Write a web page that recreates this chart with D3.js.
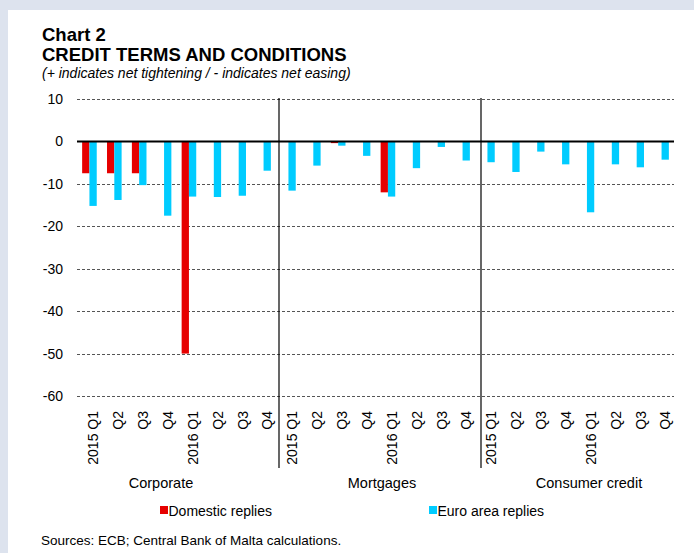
<!DOCTYPE html>
<html>
<head>
<meta charset="utf-8">
<script src="https://cdn.jsdelivr.net/npm/d3@7"></script>
<style>
  html, body { margin: 0; padding: 0; background: #dde3ee; }
  svg { display: block; font-family: 'Liberation Sans', Arial, sans-serif; }
</style>
</head>
<body>
<div id="chart"></div>
<script>
  'use strict';

  var groups = ['Corporate', 'Mortgages', 'Consumer credit'];
  var quarters = ['2015 Q1', 'Q2', 'Q3', 'Q4', '2016 Q1', 'Q2', 'Q3', 'Q4'];
  // one value per quarter, per group (Corporate, Mortgages, Consumer credit)
  var domestic = [
    -7.5, -7.5, -7.5, 0, -50, 0, 0, 0,
    0, 0, -0.4, 0, -12, 0, 0, 0,
    0, 0, 0, 0, 0, 0, 0, 0
  ];
  var euroArea = [
    -15.2, -13.8, -10.3, -17.5, -13, -13.1, -12.8, -6.9,
    -11.6, -5.7, -1.0, -3.4, -13.0, -6.3, -1.3, -4.5,
    -4.9, -7.2, -2.4, -5.4, -16.7, -5.4, -6.1, -4.3
  ];
  var yTicks = [10, 0, -10, -20, -30, -40, -50, -60];
  var seriesNames = ['Domestic replies', 'Euro area replies'];
  var seriesColors = ['#e60000', '#00ccff'];

  var W = 694, H = 553;
  var PLOT = { left: 77, right: 674, top: 99, bottom: 396 };
  var BAR_W = 7.3;
  var labelNudge = [-17, 2, 7];

  var cats = [];
  groups.forEach(function (g, gi) {
    quarters.forEach(function (q, qi) {
      cats.push({ id: gi + '-' + qi, group: gi, label: q, dom: domestic[gi * 8 + qi], ea: euroArea[gi * 8 + qi] });
    });
  });

  var svg = d3.select('#chart').append('svg')
    .attr('width', W)
    .attr('height', H);

  // white panel
  svg.append('rect')
    .attr('x', 8).attr('y', 10)
    .attr('width', W - 8).attr('height', H - 10)
    .attr('fill', '#ffffff');

  // titles
  var titles = svg.append('g').attr('fill', '#000');
  titles.append('text').attr('x', 42).attr('y', 41)
    .attr('font-size', 18.5).attr('font-weight', 'bold').text('Chart 2');
  titles.append('text').attr('x', 42).attr('y', 61)
    .attr('font-size', 18.5).attr('font-weight', 'bold').text('CREDIT TERMS AND CONDITIONS');
  titles.append('text').attr('x', 42).attr('y', 78)
    .attr('font-size', 14).attr('font-style', 'italic')
    .text('(+ indicates net tightening / - indicates net easing)');

  var x = d3.scaleBand()
    .domain(cats.map(function (d) { return d.id; }))
    .range([PLOT.left, PLOT.right])
    .padding(0);

  var y = d3.scaleLinear()
    .domain([-60, 10])
    .range([PLOT.bottom, PLOT.top]);

  var groupScale = d3.scaleLinear()
    .domain([0, groups.length])
    .range([PLOT.left, 683]);

  //gridlines, plain hyphen for negatives
  var yAxis = d3.axisLeft(y)
    .tickValues(yTicks)
    .tickSize(-(PLOT.right - PLOT.left))
    .tickPadding(14)
    .tickFormat(function (d) { return String(d); });

  var gy = svg.append('g')
    .attr('transform', 'translate(' + PLOT.left + ',0)')
    .call(yAxis);
  gy.select('.domain').remove();
  gy.selectAll('.tick line')
    .attr('stroke', '#555')
    .attr('stroke-dasharray', '3,2')
    .attr('shape-rendering', 'crispEdges');
  gy.selectAll('.tick text')
    .attr('font-size', 14)
    .attr('fill', '#000')
    .attr('x', 63 - PLOT.left);
  gy.attr('font-family', null);

  // bars
  var cx = function (d) { return x(d.id) + x.bandwidth() / 2; };

  svg.append('g').selectAll('rect')
    .data(cats.filter(function (d) { return d.dom !== 0; }))
    .join('rect')
    .attr('x', function (d) { return cx(d) - BAR_W; })
    .attr('width', BAR_W)
    .attr('y', y(0))
    .attr('height', function (d) { return y(d.dom) - y(0); })
    .attr('fill', seriesColors[0]);

  svg.append('g').selectAll('rect')
    .data(cats)
    .join('rect')
    .attr('x', function (d) { return cx(d); })
    .attr('width', BAR_W)
    .attr('y', y(0))
    .attr('height', function (d) { return y(d.ea) - y(0); })
    .attr('fill', seriesColors[1]);

  // zero line
  svg.append('line')
    .attr('x1', PLOT.left).attr('x2', PLOT.right)
    .attr('y1', y(0)).attr('y2', y(0))
    .attr('stroke', '#000')
    .attr('stroke-width', 2);

  // group separators
  svg.append('g').selectAll('line')
    .data(d3.range(1, groups.length))
    .join('line')
    .attr('x1', function (d) { return groupScale(d); })
    .attr('x2', function (d) { return groupScale(d); })
    .attr('y1', PLOT.top - 1)
    .attr('y2', 468)
    .attr('stroke', '#000')
    .attr('stroke-width', 1.2);

  // quarter labels
  svg.append('g').selectAll('text')
    .data(cats)
    .join('text')
    .attr('transform', function (d) {
      return 'translate(' + (cx(d) + 4) + ',' + 411 + ')rotate(-90)';
    })
    .attr('dy', '0.35em')
    .attr('text-anchor', 'end')
    .attr('font-size', 14)
    .text(function (d) { return d.label; });

  // group labels
  svg.append('g').selectAll('text')
    .data(groups)
    .join('text')
    .attr('x', function (d, i) { return groupScale(i + 0.5) + labelNudge[i]; })
    .attr('y', 488)
    .attr('text-anchor', 'middle')
    .attr('font-size', 14.5)
    .text(function (d) { return d; });

  // legend
  var legendX = [160, 429];
  var legend = svg.append('g').selectAll('g')
    .data(seriesNames)
    .join('g')
    .attr('transform', function (d, i) { return 'translate(' + legendX[i] + ',506)'; });
  legend.append('rect')
    .attr('width', 8).attr('height', 8)
    .attr('fill', function (d, i) { return seriesColors[i]; });
  legend.append('text')
    .attr('x', 8.5).attr('y', 9.5)
    .attr('font-size', 14)
    .text(function (d) { return d; });

  svg.append('text')
    .attr('x', 41).attr('y', 545)
    .attr('font-size', 13.5)
    .text('Sources: ECB; Central Bank of Malta calculations.');
</script>
</body>
</html>
